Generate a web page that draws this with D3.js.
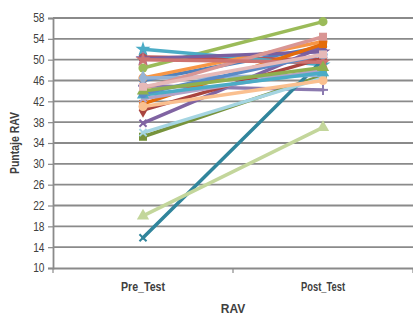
<!DOCTYPE html>
<html><head><meta charset="utf-8">
<script src="https://cdn.jsdelivr.net/npm/d3@7"></script>
<style>body{margin:0;background:#fff}svg{display:block}</style>
</head><body>
<script>
const categories = ["Pre_Test", "Post_Test"];
const yTicks = [10,14,18,22,26,30,34,38,42,46,50,54,58];
const seriesNames = ["E1","E2","E3","E4","E5","E6","E7","E8","E9","E10","E11","E12","E13","E14","E15","E16","E17","E18","E19","E20","E21","E22","E23"];
const preValues  = [46.0,50.5,48.4,37.8,52.0,46.5,45.0,40.3,35.2,50.2,15.8,41.5,46.5,44.5,20.0,42.5,36.0,41.0,43.2,50.0,43.5,44.0,44.8];
const postValues = [52.5,50.0,57.3,52.5,49.0,53.5,44.2,50.3,47.0,51.5,50.0,53.0,47.0,54.4,37.0,48.0,46.5,46.0,47.5,49.5,51.0,48.5,51.0];
const seriesColors = ["#4F81BD","#C0504D","#9BBB59","#8064A2","#4BACC6","#F79646","#8C7BB0","#A9443F","#77933C","#7A5FA0","#31859C","#E46C0A","#95B3D7","#D99694","#C3D69B","#B3A2C7","#A5D5E2","#FAC090","#4BACC6","#CD7371","#5B8BC8","#8FB04F","#E6B9B8"];
const seriesMarkers = ["diamond","square","circle","x","star","circle","plus","diamond","square","star","x","square","diamond","square","triangle","x","x","circle","triangle","star","circle","triangle","square"];

const W = 413, H = 315;
const svg = d3.select("body").append("svg").attr("width", W).attr("height", H);
const font = "'Liberation Sans Narrow','Arial Narrow','Liberation Sans',Arial,sans-serif";

const x = d3.scaleBand().domain(categories).range([53, 413]);
const y = d3.scaleLinear().domain([10, 58]).range([268, 18]);

// gridlines
svg.append("g").selectAll("line").data(yTicks.filter(t => t > 10)).join("line")
  .attr("x1", 53).attr("x2", 413).attr("y1", d => y(d)).attr("y2", d => y(d))
  .attr("stroke", "#8a8a8a").attr("stroke-width", 1.8);

// y axis
const yAxis = svg.append("g").attr("transform", "translate(53,0)")
  .call(d3.axisLeft(y).tickValues(yTicks).tickSize(5).tickPadding(5));
yAxis.select(".domain").attr("stroke", "#8a8a8a").attr("stroke-width", 1.8);
yAxis.selectAll(".tick line").attr("stroke", "#8a8a8a").attr("stroke-width", 1.2);
yAxis.selectAll("text").attr("font-family", font).attr("font-size", 12).attr("fill", "#404040")
  .attr("transform", "scale(0.85,1)");

// x axis
const xAxis = svg.append("g").attr("transform", "translate(0,268)")
  .call(d3.axisBottom(x).tickSize(0).tickPadding(14));
xAxis.select(".domain").attr("stroke", "#8a8a8a").attr("stroke-width", 1.8);
xAxis.selectAll("text").attr("font-family", font).attr("font-size", 12).attr("font-weight", "bold").attr("fill", "#404040")
  .attr("textLength", 44).attr("lengthAdjust", "spacingAndGlyphs");
svg.append("g").selectAll("line").data([53, 233, 413]).join("line")
  .attr("x1", d => d).attr("x2", d => d).attr("y1", 268).attr("y2", 273)
  .attr("stroke", "#8a8a8a").attr("stroke-width", 1.2);

// titles
svg.append("text").attr("x", 233).attr("y", 313).attr("text-anchor", "middle")
  .attr("font-family", font).attr("font-size", 12).attr("font-weight", "bold").attr("fill", "#404040").text("RAV");
svg.append("text").attr("transform", "translate(19,143) rotate(-90)").attr("text-anchor", "middle")
  .attr("font-family", font).attr("font-size", 12).attr("font-weight", "bold").attr("fill", "#404040")
  .attr("textLength", 62).attr("lengthAdjust", "spacingAndGlyphs").text("Puntaje RAV");

// series
const cx = c => x(c) + x.bandwidth() / 2;
const line = d3.line().x(d => cx(d.cat)).y(d => y(d.v));
const symMap = {diamond: d3.symbolDiamond, square: d3.symbolSquare, triangle: d3.symbolTriangle, star: d3.symbolStar, circle: d3.symbolCircle};
const g = svg.append("g");
seriesNames.forEach((name, i) => {
  const pts = [{cat: categories[0], v: preValues[i]}, {cat: categories[1], v: postValues[i]}];
  const col = seriesColors[i];
  g.append("path").datum(pts).attr("d", line).attr("fill", "none")
    .attr("stroke", col).attr("stroke-width", 3.5).attr("stroke-linecap", "round");
  pts.forEach(p => {
    const px = cx(p.cat), py = y(p.v), m = seriesMarkers[i];
    if (m === "x" || m === "plus") {
      const r = 5;
      const gg = g.append("g").attr("transform", `translate(${px},${py}) rotate(${m === "x" ? 45 : 0})`);
      gg.append("line").attr("x1", -r).attr("x2", r).attr("stroke", col).attr("stroke-width", 2);
      gg.append("line").attr("y1", -r).attr("y2", r).attr("stroke", col).attr("stroke-width", 2);
    } else {
      g.append("path").attr("d", d3.symbol().type(symMap[m]).size(m === "star" ? 70 : 65)())
        .attr("transform", `translate(${px},${py})`).attr("fill", col);
    }
  });
});
</script>
</body></html>
